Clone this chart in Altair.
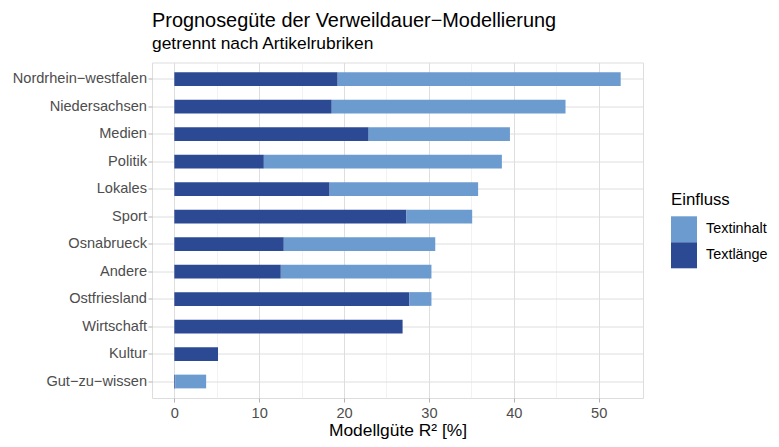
import altair as alt
import pandas as pd

rubriken = ["Nordrhein−westfalen", "Niedersachsen", "Medien", "Politik", "Lokales",
            "Sport", "Osnabrueck", "Andere", "Ostfriesland", "Wirtschaft", "Kultur",
            "Gut−zu−wissen"]
textlaenge = [19.25, 18.55, 22.9, 10.55, 18.3, 27.35, 12.9, 12.55, 27.7, 26.9, 5.15, 0.1]
textinhalt = [33.35, 27.55, 16.65, 28.05, 17.5, 7.75, 17.85, 17.75, 2.6, 0.0, 0.0, 3.65]

einfluss = ["Textinhalt", "Textlänge"]
farben = ["#6b9bcf", "#2c4a94"]
x_ticks = [0, 5, 10, 15, 20, 25, 30, 35, 40, 45, 50]

rows = []
for r, tl, ti in zip(rubriken, textlaenge, textinhalt):
    rows.append({"Rubrik": r, "Einfluss": "Textlänge", "Wert": tl, "ord": 0})
    rows.append({"Rubrik": r, "Einfluss": "Textinhalt", "Wert": ti, "ord": 1})
df = pd.DataFrame(rows)

FONT = "Liberation Sans"

chart = alt.Chart(df).mark_bar().encode(
    y=alt.Y("Rubrik:N", sort=rubriken, title=None,
            scale=alt.Scale(paddingInner=0.5, paddingOuter=0.35),
            axis=alt.Axis(domain=False, ticks=True, tickColor="#b3b3b3", tickSize=4,
                          labelColor="#4d4d4d", labelFontSize=14.6, labelFont=FONT,
                          labelPadding=1.5, grid=True, gridColor="#dedede", gridWidth=1,
                          bandPosition=0.5)),
    x=alt.X("Wert:Q", stack="zero", title="Modellgüte  R² [%]",
            scale=alt.Scale(domain=[-2.63, 55.23], nice=False, zero=False),
            axis=alt.Axis(values=x_ticks, domain=False, tickSize=4,
                          tickColor="#b3b3b3",
                          tickOpacity=alt.condition("datum.value % 10 === 0", alt.value(1), alt.value(0)),
                          labelExpr="datum.value % 10 === 0 ? datum.label : ''",
                          labelColor="#4d4d4d", labelFontSize=14.6, labelFont=FONT,
                          labelPadding=3, titleFont=FONT, titleFontSize=17.4,
                          titleFontWeight="normal", titleColor="black", titlePadding=1.5,
                          grid=True,
                          gridColor=alt.condition("datum.value % 10 === 0", alt.value("#dedede"), alt.value("#ececec")),
                          gridWidth=alt.condition("datum.value % 10 === 0", alt.value(1), alt.value(0.7)))),
    color=alt.Color("Einfluss:N",
                    scale=alt.Scale(domain=einfluss, range=farben),
                    legend=alt.Legend(title="Einfluss", orient="none", legendX=519, legendY=129,
                                      symbolType="square", symbolSize=676, symbolStrokeWidth=0,
                                      rowPadding=0, labelOffset=9, titleFont=FONT,
                                      titleFontSize=16.8, titleFontWeight="normal",
                                      titleColor="black", labelFont=FONT, labelFontSize=14.4,
                                      labelColor="black", titlePadding=8)),
    order=alt.Order("ord:Q", sort="ascending"),
).properties(
    width=491, height=335.5,
    title=alt.TitleParams(text="Prognosegüte der Verweildauer−Modellierung",
                          subtitle="getrennt nach Artikelrubriken",
                          anchor="start", frame="group", font=FONT, fontSize=19.9,
                          fontWeight="normal", color="black", subtitleFont=FONT,
                          subtitleFontSize=17.4, subtitleColor="black",
                          subtitlePadding=4, offset=10),
    autosize=alt.AutoSizeParams(type="none"),
    padding={"left": 144, "top": 54.5, "right": 128, "bottom": 41},
).configure_view(stroke="#b3b3b3", strokeWidth=1).configure(background="white")

chart.save("out.html", embed_options={"renderer": "svg", "actions": False})
